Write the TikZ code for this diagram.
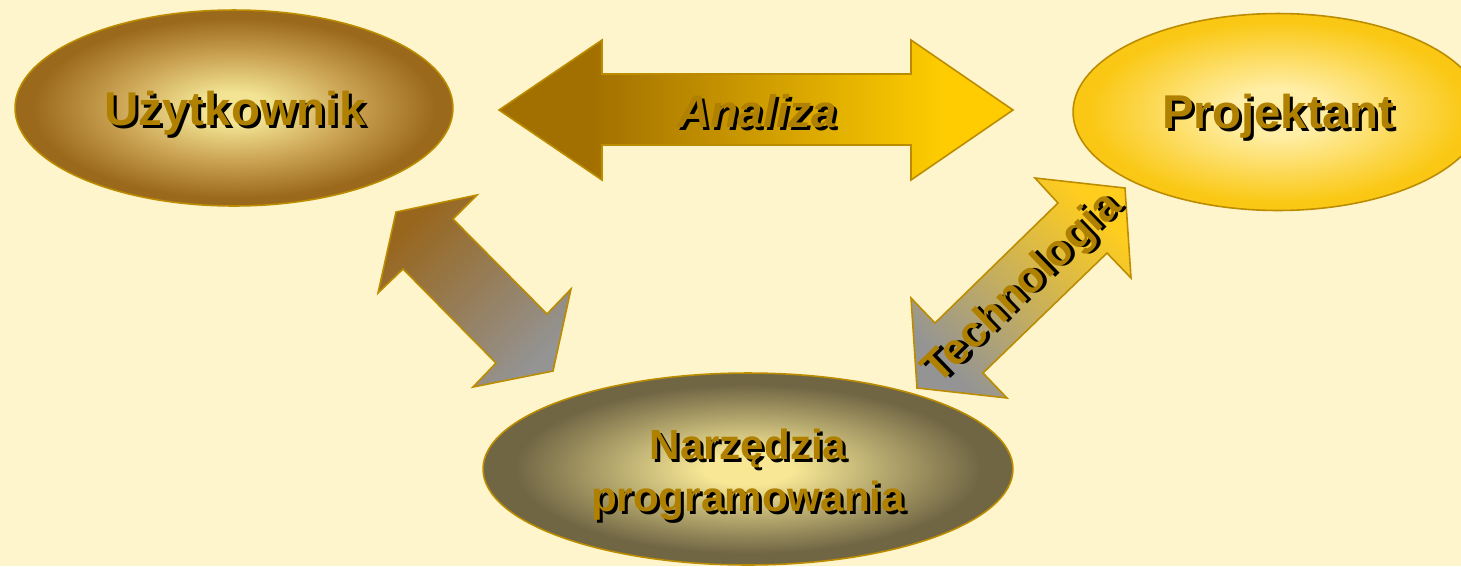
\documentclass[tikz,border=0pt]{standalone}
\usepackage{fontspec}
\setmainfont{Liberation Sans}
\usetikzlibrary{shapes.geometric}
\definecolor{bg}{RGB}{255,245,204}
\definecolor{edge}{RGB}{188,140,0}
\definecolor{txt}{RGB}{176,128,0}
\definecolor{uIn}{RGB}{242,228,148}
\definecolor{uMid}{RGB}{200,160,80}
\definecolor{uOut}{RGB}{155,105,28}
\definecolor{pIn}{RGB}{255,238,165}
\definecolor{pOut}{RGB}{250,200,20}
\definecolor{nIn}{RGB}{248,232,150}
\definecolor{nOut}{RGB}{112,102,68}
\definecolor{aL}{RGB}{162,112,0}
\definecolor{aR}{RGB}{254,204,0}
\definecolor{brownA}{RGB}{152,102,28}
\definecolor{grayA}{RGB}{148,148,148}
\definecolor{goldT}{RGB}{255,205,30}
\pgfdeclareradialshading{shUser}{\pgfpoint{0bp}{0bp}}{color(0bp)=(uIn); color(4bp)=(uIn); color(14bp)=(uMid); color(23bp)=(uOut); color(25bp)=(uOut); color(50bp)=(uOut)}
\pgfdeclareradialshading{shProj}{\pgfpoint{0bp}{0bp}}{color(0bp)=(pIn); color(6bp)=(pIn); color(23bp)=(pOut); color(25bp)=(pOut); color(50bp)=(pOut)}
\pgfdeclareradialshading{shNarz}{\pgfpoint{0bp}{0bp}}{color(0bp)=(nIn); color(4bp)=(nIn); color(22bp)=(nOut); color(25bp)=(nOut); color(50bp)=(nOut)}
\pgfdeclarehorizontalshading{shAnal}{100bp}{color(0bp)=(aL); color(34bp)=(aL); color(68bp)=(aR); color(100bp)=(aR)}
\newcommand\shd[1]{\leavevmode\rlap{\kern1.7pt\raisebox{-1.7pt}{\color{black}#1}}#1}
\tikzset{
  ell/.style={ellipse, draw=edge, line width=0.9pt, shade, inner sep=0pt, text=txt},
  blockarrow/.style={draw=edge, line width=0.9pt, line join=miter},
  lbl/.style={text=txt, inner sep=0pt, font=\fontsize{27}{30}\selectfont\bfseries},
  lblsmall/.style={text=txt, inner sep=0pt, align=center, font=\fontsize{24}{29.5}\selectfont\bfseries}
}
\begin{document}
\begin{tikzpicture}[x=0.02cm,y=-0.02cm]
\useasboundingbox (0,0) rectangle (1461,566);
\clip (0,0) rectangle (1461,566);
\fill[bg] (0,0) rectangle (1461,566);

% ellipses
\node[ell, shading=shUser, minimum width=8.76cm, minimum height=3.92cm] (user) at (234,108) {};
\node[lbl] (userlbl) at (235,115) {\shd{Użytkownik}};
\node[ell, shading=shProj, minimum width=8.2cm, minimum height=3.94cm] (proj) at (1278,112) {};
\node[lbl] (projlbl) at (1278,118) {\shd{Projektant}};
\node[ell, shading=shNarz, minimum width=10.6cm, minimum height=3.84cm] (narz) at (748,469) {};
\node[lblsmall] (narzlbl) at (748,476) {\shd{Narzędzia}\\\shd{programowania}};

% Analiza arrow
\shadedraw[blockarrow, shading=shAnal] (499,110) -- (602,40) -- (602,74) -- (911,74) -- (911,40) -- (1013,110) -- (911,180) -- (911,145) -- (602,145) -- (602,180) -- cycle;
\node[lbl, font=\fontsize{26}{30}\selectfont\bfseries\itshape] (anal) at (757,113) {\shd{Analiza}};

% left diagonal arrow
\shadedraw[blockarrow, top color=brownA, bottom color=grayA, shading angle=45]
  (396,212) -- (477,195) -- (453,219) -- (547,314) -- (571,289) -- (553,371) -- (473,387) -- (496,363) -- (403,269) -- (378,293) -- cycle;

% Technologia arrow
\shadedraw[blockarrow, top color=goldT, bottom color=grayA, shading angle=-45]
  (1035,178) -- (1125,188) -- (1131,278) -- (1107,253) -- (983,373) -- (1007,398) -- (917,388) -- (911,298) -- (935,323) -- (1058,203) -- cycle;
\node[lblsmall, rotate=44, font=\fontsize{25}{29.5}\selectfont\bfseries] (tech) at (1024,290) {\shd{Technologia}};
\end{tikzpicture}
\end{document}
